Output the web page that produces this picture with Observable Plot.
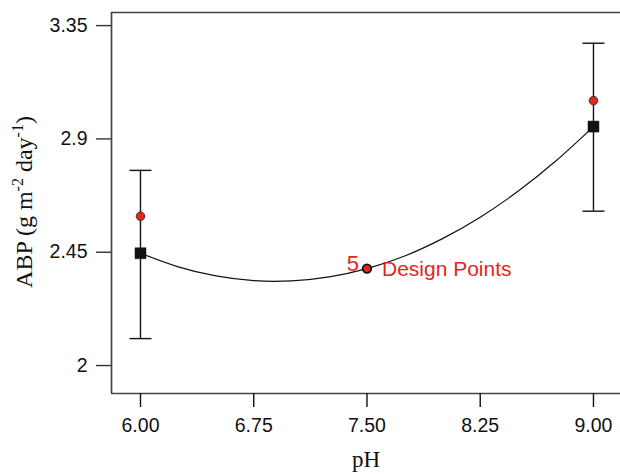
<!DOCTYPE html>
<html><head><meta charset="utf-8">
<script src="https://cdn.jsdelivr.net/npm/d3@7"></script>
<script src="https://cdn.jsdelivr.net/npm/@observablehq/plot@0.6"></script>
<style>body{margin:0;background:#fff} svg{display:block}</style>
</head><body><div id="chart"></div>
<script>
// Data
const squarePH = [6.0, 9.0];
const squareABP = [2.446, 2.949];           // predicted (black squares)
const actualPH = [6.0, 9.0];
const actualABP = [2.593, 3.052];           // observed (red circles)
const designPH = [7.5];
const designABP = [2.385];                  // centre point (5 design points)
const errPH = [6.0, 9.0];
const errLow = [2.107, 2.613];
const errHigh = [2.775, 3.28];
const curvePH  = [6.0, 6.25, 6.5, 6.75, 7.0, 7.25, 7.5, 7.75, 8.0, 8.25, 8.5, 8.75, 9.0];
const curveABP = [2.446, 2.392, 2.356, 2.337, 2.336, 2.352, 2.385, 2.435, 2.504, 2.589, 2.692, 2.812, 2.949];
const xTicks = [6.0, 6.75, 7.5, 8.25, 9.0];
const yTicks = [2, 2.45, 2.9, 3.35];
const xDomain = [5.808, 9.179];
const yDomain = [1.889, 3.402];

const red = "#e2271d";
const curveData = curvePH.map((x, i) => ({x, y: curveABP[i]}));
const squares = squarePH.map((x, i) => ({x, y: squareABP[i]}));
const actual = actualPH.map((x, i) => ({x, y: actualABP[i]}));
const design = designPH.map((x, i) => ({x, y: designABP[i]}));
const errs = errPH.map((x, i) => ({x, lo: errLow[i], hi: errHigh[i]}));
const caps = errs.flatMap(d => [{x: d.x, y: d.lo}, {x: d.x, y: d.hi}]);

const capSymbol = {draw(ctx, size) { const r = Math.sqrt(size / Math.PI); ctx.moveTo(-r, 0); ctx.lineTo(r, 0); }};

const svg = Plot.plot({
  width: 620, height: 474,
  marginLeft: 111, marginRight: 0, marginTop: 12, marginBottom: 81,
  style: {fontFamily: "'Liberation Sans', Arial, sans-serif", fontSize: "19.5px", color: "#111", background: "#fff"},
  x: {domain: xDomain, axis: null},
  y: {domain: yDomain, axis: null},
  marks: [
    Plot.ruleY([yDomain[0], yDomain[1]], {stroke: "#444", strokeWidth: 1.7}),
    Plot.ruleX([xDomain[0]], {stroke: "#444", strokeWidth: 1.7}),
    Plot.axisX(xTicks, {tickSize: 14, tickPadding: 11, tickFormat: d3.format(".2f"), label: null, stroke: "#111", strokeWidth: 1.4, fill: "#111"}),
    Plot.axisY(yTicks, {tickSize: 15, tickPadding: 9, tickFormat: d => String(d), label: null, stroke: "#333", strokeWidth: 1.4, fill: "#111"}),
    Plot.ruleX(errs, {x: "x", y1: "lo", y2: "hi", stroke: "#111", strokeWidth: 1.4}),
    Plot.dot(caps, {x: "x", y: "y", symbol: capSymbol, r: 11, stroke: "#111", strokeWidth: 1.4, fill: "none"}),
    Plot.line(curveData, {x: "x", y: "y", curve: "natural", stroke: "#111", strokeWidth: 1.2}),
    Plot.dot(squares, {x: "x", y: "y", symbol: "square", r: 6.2, fill: "#111", stroke: "#111", strokeWidth: 0.5}),
    Plot.dot(actual, {x: "x", y: "y", r: 4.3, fill: red, stroke: "#222", strokeWidth: 0.8}),
    Plot.dot(design, {x: "x", y: "y", r: 4.3, fill: red, stroke: "#111", strokeWidth: 1.8}),
    Plot.text(design, {x: "x", y: "y", text: () => "5", dx: -14, dy: -5, fill: red, fontSize: 22, textAnchor: "middle"}),
    Plot.text(design, {x: "x", y: "y", text: () => "Design Points", dx: 15, dy: 1, fill: red, fontSize: 21, textAnchor: "start"})
  ]
});
document.getElementById("chart").appendChild(svg);

const s = d3.select(svg);
s.append("text").attr("x", 366).attr("y", 467).attr("text-anchor", "middle")
  .attr("font-family", "'Liberation Serif', 'Times New Roman', serif").attr("font-size", 23).attr("fill", "#111").text("pH");
const yl = s.append("text").attr("transform", "translate(31.5,202) rotate(-90)").attr("text-anchor", "middle")
  .attr("font-family", "'Liberation Serif', 'Times New Roman', serif").attr("font-size", 24).attr("fill", "#111");
yl.append("tspan").text("ABP (g m");
yl.append("tspan").attr("dy", -9).attr("font-size", 16).text("-2");
yl.append("tspan").attr("dy", 9).text(" day");
yl.append("tspan").attr("dy", -9).attr("font-size", 16).text("-1");
yl.append("tspan").attr("dy", 9).text(")");
</script></body></html>
